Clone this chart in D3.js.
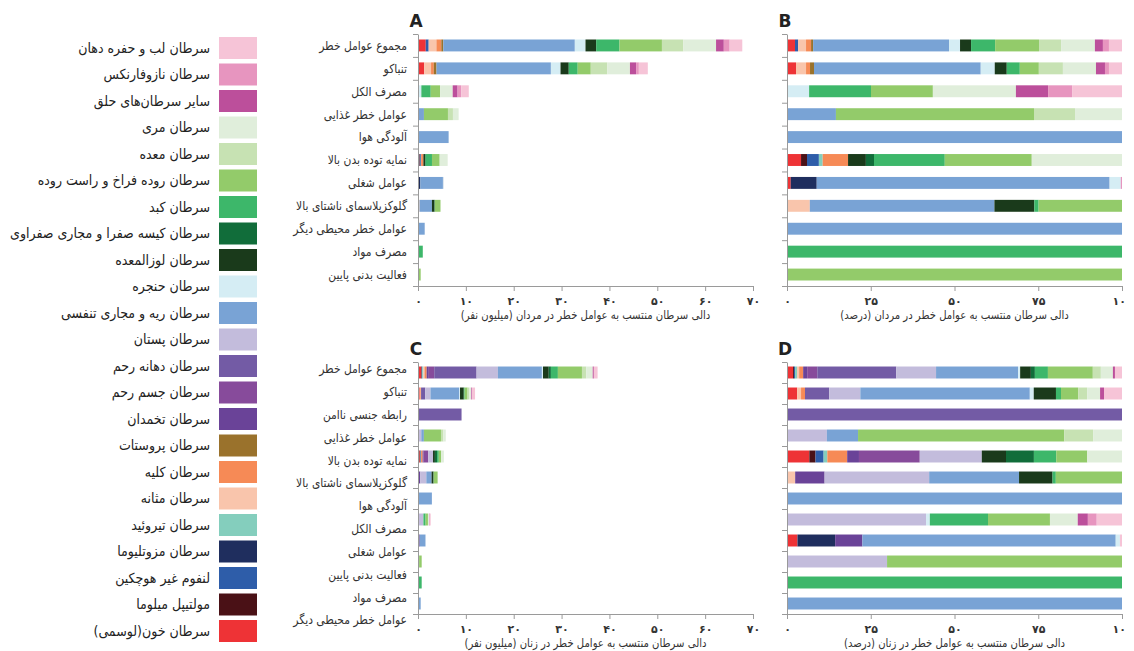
<!DOCTYPE html>
<html><head><meta charset="utf-8">
<script src="https://cdn.jsdelivr.net/npm/d3@7"></script>
<style>
body{margin:0;background:#fff;overflow:hidden}
svg{display:block}
text{font-family:"DejaVu Sans",sans-serif}
</style>
</head><body>
<svg id="chart" width="1134" height="651"></svg>
<script>
// ---- Categories (stack order, left to right) ----
const cancerKeys = ["leuk","myeloma","nhl","meso","thyroid","bladder","kidney","prostate","ovary","uterus","cervix","breast","lung","larynx","pancreas","gallbladder","liver","colorectal","stomach","esophagus","pharynx","naso","lip"];
const cancerNames = ["سرطان خون(لوسمی)","مولتیپل میلوما","لنفوم غیر هوچکین","سرطان مزوتلیوما","سرطان تیروئید","سرطان مثانه","سرطان کلیه","سرطان پروستات","سرطان تخمدان","سرطان جسم رحم","سرطان دهانه رحم","سرطان پستان","سرطان ریه و مجاری تنفسی","سرطان حنجره","سرطان لوزالمعده","سرطان کیسه صفرا و مجاری صفراوی","سرطان کبد","سرطان روده فراخ و راست روده","سرطان معده","سرطان مری","سایر سرطان‌های حلق","سرطان نازوفارنکس","سرطان لب و حفره دهان"];
const cancerColors = ["#ee3336","#4a1116","#2e5da9","#1f2e5e","#84cebd","#f9c5ac","#f68a56","#9a722c","#6a4398","#874b9b","#735ba5","#c3bcdc","#79a3d5","#d5edf4","#1a3a1b","#116d3a","#3db76a","#93cb6a","#c7e2b3","#e0eedb","#bc4f9b","#e795bf","#f6c4d7"];

// ---- Risk factors ----
const menFactors = ["مجموع عوامل خطر","تنباکو","مصرف الکل","عوامل خطر غذایی","آلودگی هوا","نمایه توده بدن بالا","عوامل شغلی","گلوکزپلاسمای ناشتای بالا","عوامل خطر محیطی دیگر","مصرف مواد","فعالیت بدنی پایین"];
const womenFactors = ["مجموع عوامل خطر","تنباکو","رابطه جنسی ناامن","عوامل خطر غذایی","نمایه توده بدن بالا","گلوکزپلاسمای ناشتای بالا","آلودگی هوا","مصرف الکل","عوامل شغلی","فعالیت بدنی پایین","مصرف مواد","عوامل خطر محیطی دیگر"];

// ---- Values: attributable cancer DALYs (million) ----
const menTotal = {leuk:1.62,nhl:0.61,bladder:1.62,kidney:1.02,prostate:0.41,lung:27.49,larynx:2.23,pancreas:2.23,liver:4.87,colorectal:8.87,stomach:4.47,esophagus:6.84,pharynx:1.62,naso:1.22,lip:2.64};
const menTobacco = {leuk:1.29,bladder:1.44,kidney:0.57,prostate:0.57,lung:23.9,larynx:2.01,pancreas:1.72,liver:1.87,colorectal:2.73,stomach:3.45,esophagus:4.74,pharynx:1.29,naso:0.57,lip:1.87};
const menAlcohol = {larynx:0.70,liver:1.96,colorectal:1.96,esophagus:2.63,pharynx:1.02,naso:0.76,lip:1.58};
const menDiet = {lung:1.24,colorectal:5.02,stomach:1.04,esophagus:1.19};
const menAir = {lung:6.4};
const menBmi = {leuk:0.26,myeloma:0.11,nhl:0.22,thyroid:0.07,kidney:0.47,pancreas:0.33,gallbladder:0.15,liver:1.31,colorectal:1.61,esophagus:1.67};
const menOccup = {leuk:0.06,meso:0.42,lung:4.73,larynx:0.18,naso:0.02};
const menFpg = {bladder:0.32,lung:2.59,pancreas:0.56,liver:0.06,colorectal:1.17};
const menOtherEnv = {lung:1.4};
const menDrug = {liver:1.0};
const menActivity = {colorectal:0.56};

const womenTotal = {leuk:0.68,myeloma:0.11,nhl:0.11,thyroid:0.23,bladder:0.23,kidney:0.45,ovary:0.45,uterus:1.13,cervix:8.85,breast:4.46,lung:9.19,larynx:0.23,pancreas:1.2,gallbladder:0.45,liver:1.46,colorectal:5.03,stomach:0.9,esophagus:1.35,pharynx:0.23,lip:0.79};
const womenTobacco = {leuk:0.36,bladder:0.14,kidney:0.14,cervix:0.86,breast:1.11,lung:6.03,larynx:0.14,pancreas:0.79,liver:0.18,colorectal:0.61,stomach:0.32,esophagus:0.46,pharynx:0.14,lip:0.64};
const womenSex = {cervix:9.1};
const womenDiet = {breast:0.69,lung:0.54,colorectal:3.57,stomach:0.5,esophagus:0.5};
const womenBmi = {leuk:0.36,myeloma:0.1,nhl:0.13,thyroid:0.06,kidney:0.32,ovary:0.19,uterus:0.98,breast:1.0,pancreas:0.39,gallbladder:0.45,liver:0.36,colorectal:0.5,esophagus:0.56};
const womenFpg = {bladder:0.1,ovary:0.36,breast:1.28,lung:1.1,pancreas:0.41,liver:0.04,colorectal:0.81};
const womenAir = {lung:2.9};
const womenAlcohol = {breast:1.1,larynx:0.03,liver:0.46,colorectal:0.49,esophagus:0.22,pharynx:0.08,naso:0.07,lip:0.2};
const womenOccup = {leuk:0.05,meso:0.18,ovary:0.13,lung:1.21,larynx:0.02,lip:0.01};
const womenActivity = {breast:0.23,colorectal:0.54};
const womenDrug = {liver:0.77};
const womenOtherEnv = {lung:0.56};

const countTickValues = [0,10,20,30,40,50,60,70];
const countTickLabels = ["۰","۱۰","۲۰","۳۰","۴۰","۵۰","۶۰","۷۰"];
const pctTickValues = [0,25,50,75,100];
const pctTickLabels = ["۰","۲۵","۵۰","۷۵","۱۰۰"];

const menRows = [menTotal,menTobacco,menAlcohol,menDiet,menAir,menBmi,menOccup,menFpg,menOtherEnv,menDrug,menActivity];
const womenRows = [womenTotal,womenTobacco,womenSex,womenDiet,womenBmi,womenFpg,womenAir,womenAlcohol,womenOccup,womenActivity,womenDrug,womenOtherEnv];

// ---- Drawing ----
const svg = d3.select("#chart");
svg.append("defs").append("clipPath").attr("id","clipR")
  .append("rect").attr("x",0).attr("y",0).attr("width",1127).attr("height",651);
const color = d3.scaleOrdinal().domain(cancerKeys).range(cancerColors);
const AXIS_COLOR = "#9a9a9a";

function stackRow(row, factor, percent){
  const total = d3.sum(cancerKeys, k => row[k] || 0);
  let cum = 0;
  const segs = [];
  cancerKeys.forEach(k => {
    let v = row[k] || 0;
    if (!v) return;
    if (percent) v = v / total * 100;
    segs.push({factor, key:k, x0:cum, x1:cum+v});
    cum += v;
  });
  return segs;
}

function drawPanel(opt){
  const g = svg.append("g").attr("clip-path","url(#clipR)");
  const x = d3.scaleLinear().domain(opt.domain).range([opt.x0, opt.x1]);
  const y = d3.scaleBand().domain(opt.factors).range([opt.y0, opt.y1])
    .paddingInner(opt.pad).paddingOuter(opt.pad/2);

  // bars
  opt.rows.forEach((row,i) => {
    const segs = stackRow(row, opt.factors[i], opt.percent);
    g.append("g").selectAll("rect").data(segs).join("rect")
      .attr("x", d => x(d.x0))
      .attr("width", d => Math.max(0, x(d.x1) - x(d.x0)))
      .attr("y", d => y(d.factor))
      .attr("height", y.bandwidth())
      .attr("fill", d => color(d.key));
  });

  // left axis with ticks at band boundaries
  const yb = d3.scaleLinear().domain([0, opt.factors.length]).range([opt.y0, opt.y1]);
  const la = g.append("g").attr("transform",`translate(${opt.x0},0)`)
    .call(d3.axisLeft(yb).tickValues(d3.range(opt.factors.length+1)).tickFormat("").tickSize(5).tickSizeOuter(0));
  la.selectAll("path,line").attr("stroke", AXIS_COLOR);

  // bottom axis
  const ba = g.append("g").attr("transform",`translate(0,${opt.y1})`)
    .call(d3.axisBottom(x).tickValues(opt.tickValues).tickFormat((d,i) => opt.tickLabels[i]).tickSize(5).tickSizeOuter(0).tickPadding(6));
  ba.selectAll("path,line").attr("stroke", AXIS_COLOR);
  ba.selectAll("text").attr("font-size",11).attr("font-weight","bold").attr("fill","#333")
    .attr("font-family","DejaVu Sans");

  // axis title
  g.append("text")
    .attr("transform",`translate(${(opt.x0+opt.x1)/2},${opt.y1+33}) scale(0.84,1)`)
    .attr("text-anchor","middle").attr("direction","rtl")
    .attr("font-size",12).attr("fill","#333").text(opt.title);

  // panel letter
  svg.append("text").attr("x",opt.x0-2).attr("y",opt.y0-7)
    .attr("text-anchor","middle").attr("font-family","DejaVu Serif")
    .attr("font-weight","bold").attr("font-size",17).attr("fill","#222").text(opt.letter);

  // row labels
  if (opt.showLabels){
    const ly = opt.labelRange
      ? d3.scalePoint().domain(opt.factors).range(opt.labelRange)
      : (d => y(d) + y.bandwidth()/2);
    svg.append("g").selectAll("text").data(opt.factors).join("text")
      .attr("transform", d => `translate(${opt.x0-11},${ly(d)}) scale(0.86,1)`)
      .attr("dy","0.35em").attr("direction","rtl").attr("text-anchor","start")
      .attr("font-size",12.5).attr("fill","#333").text(d => d);
  }
}

drawPanel({letter:"A", factors:menFactors, rows:menRows, domain:[0,70], percent:false,
  x0:418, x1:753, y0:34, y1:286, pad:0.48, tickValues:countTickValues, tickLabels:countTickLabels,
  title:"دالی سرطان منتسب به عوامل خطر در مردان (میلیون نفر)", showLabels:true});
drawPanel({letter:"B", factors:menFactors, rows:menRows, domain:[0,100], percent:true,
  x0:787, x1:1122, y0:34, y1:286, pad:0.48, tickValues:pctTickValues, tickLabels:pctTickLabels,
  title:"دالی سرطان منتسب به عوامل خطر در مردان (درصد)", showLabels:false});
drawPanel({letter:"C", factors:womenFactors, rows:womenRows, domain:[0,70], percent:false,
  x0:418, x1:753, y0:362, y1:614, pad:0.43, tickValues:countTickValues, tickLabels:countTickLabels,
  title:"دالی سرطان منتسب به عوامل خطر در زنان (میلیون نفر)", showLabels:true, labelRange:[369,620]});
drawPanel({letter:"D", factors:womenFactors, rows:womenRows, domain:[0,100], percent:true,
  x0:787, x1:1122, y0:362, y1:614, pad:0.43, tickValues:pctTickValues, tickLabels:pctTickLabels,
  title:"دالی سرطان منتسب به عوامل خطر در زنان (درصد)", showLabels:false});

// legend (top to bottom = reverse of stack order)
const legendKeys = cancerKeys.slice().reverse();
const ly = d3.scalePoint().domain(legendKeys).range([48, 631]);
const lg = svg.append("g");
const item = lg.selectAll("g").data(legendKeys).join("g")
  .attr("transform", d => `translate(0,${ly(d)})`);
item.append("rect").attr("x",219).attr("y",-11).attr("width",38).attr("height",22)
  .attr("fill", d => color(d));
item.append("text").attr("transform","translate(210,0) scale(0.9,1)").attr("dy","0.35em")
  .attr("direction","rtl").attr("text-anchor","start")
  .attr("font-size",14).attr("fill","#222")
  .text(d => cancerNames[cancerKeys.indexOf(d)]);
</script>
</body></html>
